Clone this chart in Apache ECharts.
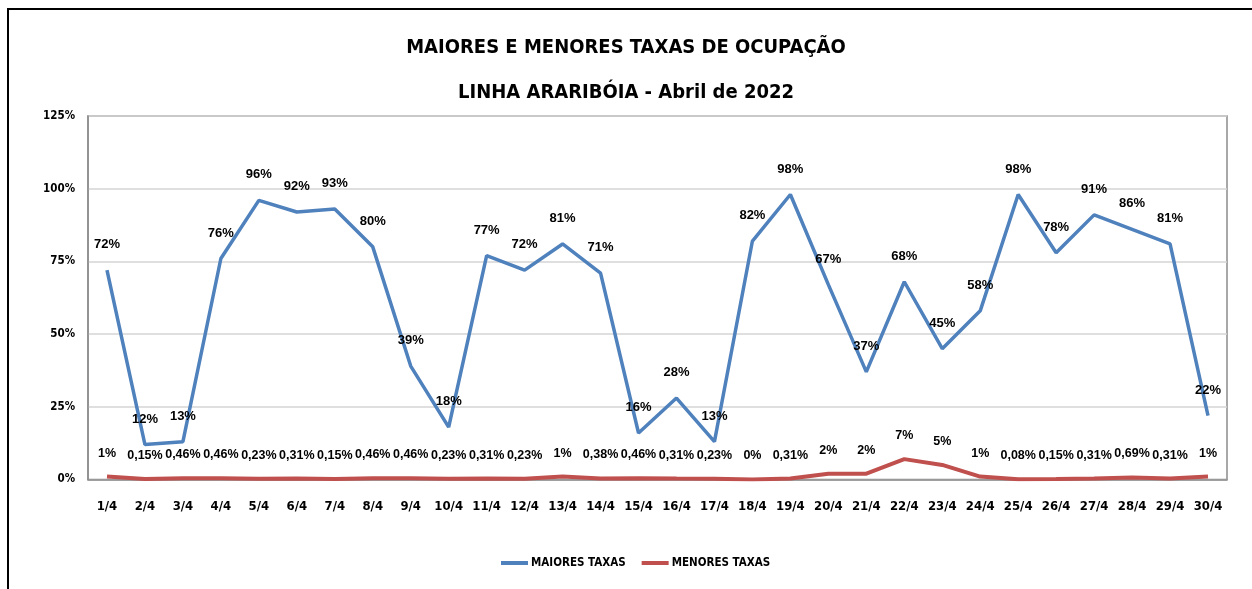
<!DOCTYPE html>
<html>
<head>
<meta charset="utf-8">
<script src="https://cdn.jsdelivr.net/npm/echarts@6/dist/echarts.min.js"></script>
<style>
html,body{margin:0;padding:0;background:#fff;}
#c{width:1252px;height:589px;}
</style>
</head>
<body>
<div id="c"></div>
<script>
const categories = ['1/4','2/4','3/4','4/4','5/4','6/4','7/4','8/4','9/4','10/4','11/4','12/4','13/4','14/4','15/4','16/4','17/4','18/4','19/4','20/4','21/4','22/4','23/4','24/4','25/4','26/4','27/4','28/4','29/4','30/4'];
const maioresTaxas = [72,12,13,76,96,92,93,80,39,18,77,72,81,71,16,28,13,82,98,67,37,68,45,58,98,78,91,86,81,22];
const menoresTaxas = [1,0.15,0.46,0.46,0.23,0.31,0.15,0.46,0.46,0.23,0.31,0.23,1,0.38,0.46,0.31,0.23,0,0.31,2,2,7,5,1,0.08,0.15,0.31,0.69,0.31,1];
const yTicks = [0,25,50,75,100,125];
const titleLines = ['MAIORES E MENORES TAXAS DE OCUPAÇÃO','LINHA ARARIBÓIA - Abril de 2022'];
const seriesNames = ['MAIORES TAXAS','MENORES TAXAS'];

const FONT = '"DejaVu Sans Condensed","Liberation Sans",sans-serif';
const LABEL_FONT = '"Liberation Sans","DejaVu Sans Condensed",sans-serif';

function fmtLow(v){
  if (v === 0) return '0%';
  if (v >= 1) return Math.round(v) + '%';
  return v.toFixed(2).replace('.', ',') + '%';
}

const chart = echarts.init(document.getElementById('c'), null, {renderer:'canvas'});
chart.setOption({
  backgroundColor:'#fff',
  animation:false,
  textStyle:{fontFamily:FONT},
  title:{
    text: titleLines.join('\n'),
    left:'center', top:20,
    textStyle:{fontFamily:FONT, fontWeight:'bold', fontSize:20, color:'#000', lineHeight:45}
  },
  graphic:[{
    type:'rect', shape:{x:8, y:9, width:1300, height:700},
    style:{fill:'none', stroke:'#000', lineWidth:2}, silent:true, z:-1
  },{
    type:'rect', shape:{x:88, y:116, width:1139, height:363.5},
    style:{fill:'none', stroke:'#8c8c8c', lineWidth:1.5}, silent:true, z:-1
  }],
  legend:{
    bottom:15, left:496,
    icon:'rect', itemWidth:27, itemHeight:4, itemGap:16,
    textStyle:{fontFamily:FONT, fontWeight:'bold', fontSize:11.5, color:'#000', padding:[0,0,0,-2]},
    data: seriesNames
  },
  grid:{left:88, right:25, top:116, bottom:109.5, containLabel:false},
  xAxis:{
    type:'category', data:categories, boundaryGap:true,
    axisLine:{lineStyle:{color:'#8c8c8c', width:1.5}},
    axisTick:{show:false},
    axisLabel:{fontFamily:FONT, fontWeight:'bold', fontSize:13, color:'#000', margin:21, interval:0}
  },
  yAxis:{
    type:'value', min:yTicks[0], max:yTicks[yTicks.length-1], interval:25,
    axisLine:{show:true, lineStyle:{color:'#8c8c8c', width:1.5}},
    axisTick:{show:false},
    splitLine:{lineStyle:{color:'#d4d4d4', width:1.5}},
    axisLabel:{fontFamily:FONT, fontWeight:'bold', fontSize:11.5, color:'#000', margin:13,
      formatter: v => v + '%'}
  },
  series:[{
    name:seriesNames[0], type:'line', data:maioresTaxas,
    symbol:'circle', symbolSize:0, showSymbol:true,
    lineStyle:{color:'#4f81bd', width:3.5},
    itemStyle:{color:'#4f81bd'},
    label:{show:true, position:'top', distance:19, fontFamily:LABEL_FONT, fontWeight:'bold', fontSize:13, color:'#000',
      formatter: p => Math.round(p.value) + '%'},
    z:3
  },{
    name:seriesNames[1], type:'line', data:menoresTaxas,
    symbol:'circle', symbolSize:0, showSymbol:true,
    lineStyle:{color:'#c0504d', width:4},
    itemStyle:{color:'#c0504d'},
    label:{show:true, position:'top', distance:17, fontFamily:LABEL_FONT, fontWeight:'bold', fontSize:12.5, color:'#000',
      formatter: p => fmtLow(p.value)},
    z:2
  }]
});
</script>
</body>
</html>
